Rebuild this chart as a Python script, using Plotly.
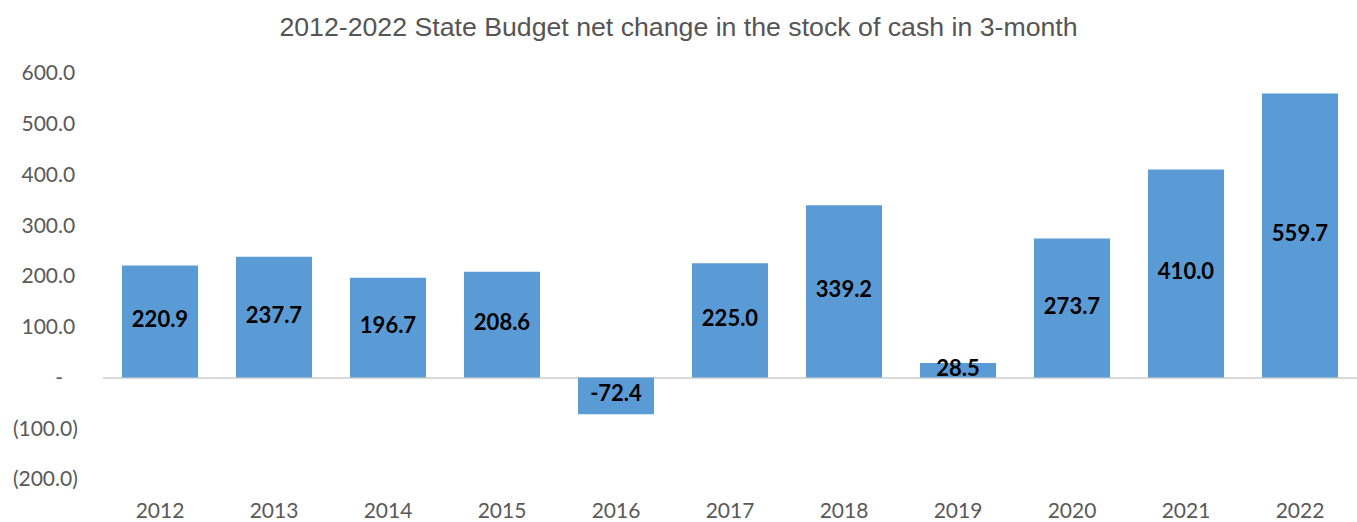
import plotly.graph_objects as go

# Net change in the stock of cash, first three months of each year
years = ["2012", "2013", "2014", "2015", "2016", "2017", "2018", "2019", "2020", "2021", "2022"]
values = [220.9, 237.7, 196.7, 208.6, -72.4, 225.0, 339.2, 28.5, 273.7, 410.0, 559.7]

tick_vals = [600, 500, 400, 300, 200, 100, 0, -100, -200]
tick_text = ["600.0\u2009", "500.0\u2009", "400.0\u2009", "300.0\u2009", "200.0\u2009",
             "100.0\u2009", "-\u2007\u2009", "(100.0)", "(200.0)"]

BAR_COLOR = "#5b9bd5"
GREY = "#595959"

fig = go.Figure()
fig.add_trace(go.Bar(
    x=years, y=values,
    marker=dict(color=BAR_COLOR, line=dict(width=0)),
    width=0.667,
    hoverinfo="x+y",
))
# value labels centred within each bar
fig.add_trace(go.Scatter(
    x=years, y=[v / 2 for v in values],
    mode="text",
    text=[f"{v:.1f}" for v in values],
    textfont=dict(family="Lato", size=22, color="black", weight="bold"),
    hoverinfo="skip",
))

fig.update_layout(
    width=1357, height=522,
    margin=dict(l=103, r=0, t=73, b=43),
    paper_bgcolor="white", plot_bgcolor="white",
    showlegend=False,
    title=dict(
        text="2012-2022 State Budget net change in the stock of cash in 3-month",
        font=dict(family="Liberation Sans", size=26.7, color="#555555"),
        x=0.5, xanchor="center", y=0.948, yanchor="middle",
    ),
    xaxis=dict(
        range=[-0.5, len(years) - 0.5],
        showgrid=False, zeroline=False, showline=False,
        tickfont=dict(family="Lato", size=21, color=GREY),
        ticks="outside", ticklen=13, tickcolor="rgba(0,0,0,0)",
    ),
    yaxis=dict(
        range=[-200, 600],
        tickvals=tick_vals, ticktext=tick_text,
        showgrid=False, showline=False,
        zeroline=True, zerolinecolor="#d9d9d9", zerolinewidth=1.5,
        tickfont=dict(family="Lato", size=21, color=GREY),
        ticks="outside", ticklen=20, tickcolor="rgba(0,0,0,0)",
    ),
)

fig.write_html("out.html")
